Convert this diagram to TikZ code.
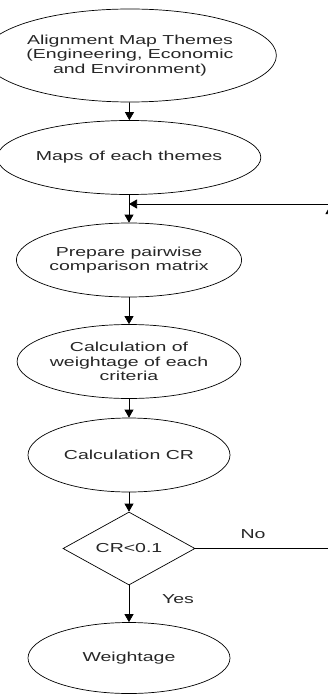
\documentclass[tikz,border=0pt]{standalone}
\usepackage{fontspec}
\setmainfont[FakeStretch=1.5]{Liberation Sans}
\usetikzlibrary{shapes.geometric, arrows.meta}

\begin{document}
\begin{tikzpicture}[x=1pt, y=-1pt,
	stage/.style={draw, ellipse, line width=0.7pt, minimum width=202pt, minimum height=74pt,
		inner sep=0pt, align=center, text=black!85, font=\fontsize{13}{14.5}\selectfont},
	test/.style={draw, diamond, aspect=2, line width=0.7pt, minimum width=132pt, minimum height=73pt,
		inner sep=0pt, text=black!85, font=\fontsize{13}{14.5}\selectfont},
	tag/.style={text=black!85, font=\fontsize{13}{14.5}\selectfont},
	flow/.style={line width=0.7pt, -{Stealth[length=8pt, width=9pt, inset=0pt]}}]
	\useasboundingbox (0,0) rectangle (328,695);

% draw stages
	\node[stage, minimum width=236pt, minimum height=93pt] (themes) at (130,55.5)
		{Alignment Map Themes\\(Engineering, Economic\\and Environment)};
	\node[stage] (maps) at (129,157.5) {Maps of each themes};
	\node[stage] (pairwise) at (129,260) {Prepare pairwise\\comparison matrix};
	\node[stage] (weights) at (129,361.5) {Calculation of\\weightage of each\\criteria};
	\node[stage] (calccr) at (129,455) {Calculation CR};
	\node[test] (crtest) at (129,548.5) {CR<0.1};
	\node[stage, minimum height=71pt] (weightage) at (129,658) {Weightage};

% draw flow
	\coordinate (join) at (129,204);
	\coordinate (corner) at (330,206);
	\coordinate (back) at (331,204);
	\draw[flow] (themes) -- (maps);
	\draw[line width=0.7pt] (maps) -- (join);
	\draw[flow] (join) -- (pairwise);
	\draw[flow] (pairwise) -- (weights);
	\draw[flow] (weights) -- (calccr);
	\draw[flow] (calccr) -- (crtest);
	\draw[flow] (crtest) -- (weightage);

% loop back when CR too large (runs just past the right edge)
	\draw[flow] (crtest.east) -| (corner);
	\draw[flow] (back) -- (join);

% labels
	\node[tag] (no) at (253,534) {No};
	\node[tag] (yes) at (178,599) {Yes};
\end{tikzpicture}
\end{document}
